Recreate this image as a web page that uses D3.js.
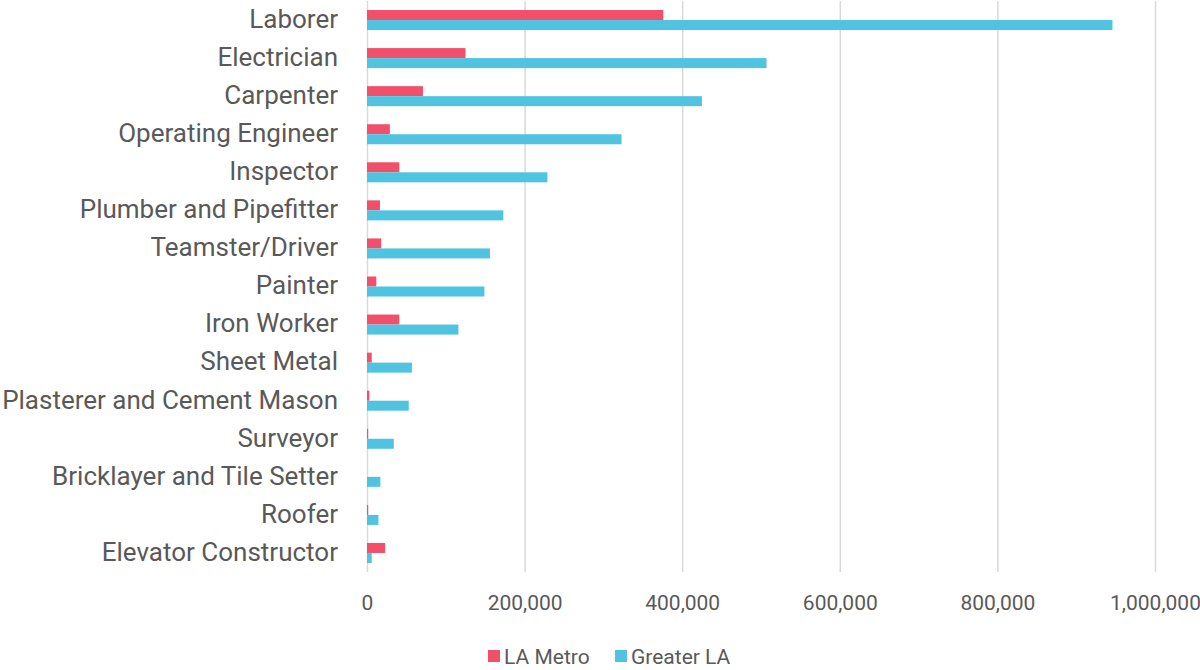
<!DOCTYPE html>
<html>
<head>
<meta charset="utf-8">
<script src="https://cdn.jsdelivr.net/npm/d3@7"></script>
<style>
  body { margin: 0; background: #fff; }
  svg text { font-family: Roboto, "Open Sans", sans-serif; fill: #595959; }
</style>
</head>
<body>
<svg id="chart" width="1200" height="670"></svg>
<script>
const trades = [
  "Laborer", "Electrician", "Carpenter", "Operating Engineer", "Inspector",
  "Plumber and Pipefitter", "Teamster/Driver", "Painter", "Iron Worker",
  "Sheet Metal", "Plasterer and Cement Mason", "Surveyor",
  "Bricklayer and Tile Setter", "Roofer", "Elevator Constructor"
];
const laMetro = [376000, 125000, 71000, 29000, 41000, 16500, 18000, 11800, 41000, 6000, 3000, 1500, 0, 1500, 23000];
const greaterLA = [946000, 507000, 425000, 323000, 229000, 173000, 156000, 149000, 116000, 57000, 53000, 34000, 17000, 14500, 6000];
const seriesNames = ["LA Metro", "Greater LA"];
const seriesColors = ["#f2506a", "#4fc3e0"];
const xTicks = [0, 200000, 400000, 600000, 800000, 1000000];

const svg = d3.select("#chart");
const margin = { top: 1, left: 367, right: 45 };
const plotH = 571;
const width = 1200 - margin.left - margin.right;

const x = d3.scaleLinear().domain([0, 1000000]).range([0, width]);
const y = d3.scaleBand().domain(trades).range([0, plotH])
  .paddingInner(0.474).paddingOuter(0.237);
const sub = d3.scaleBand().domain(seriesNames).range([0, y.bandwidth()]);

const g = svg.append("g")
  .attr("transform", "translate(" + margin.left + "," + margin.top + ")");

// vertical gridlines
g.append("g")
  .attr("class", "grid")
  .call(d3.axisBottom(x).tickValues(xTicks).tickSize(plotH).tickFormat(""))
  .call(s => s.select(".domain").remove())
  .call(s => s.selectAll("line").attr("stroke", "#d9d9d9").attr("stroke-width", 1.5));

// x tick labels
g.append("g")
  .attr("transform", "translate(0," + (plotH + 20) + ")")
  .call(d3.axisBottom(x).tickValues(xTicks).tickSize(0).tickFormat(d3.format(",")))
  .call(s => s.select(".domain").remove())
  .call(s => s.selectAll("text").style("font-size", "21px").attr("dy", "0.71em"));

// category labels
g.append("g")
  .attr("transform", "translate(-29,0)")
  .call(d3.axisLeft(y).tickSize(0).tickPadding(0))
  .call(s => s.select(".domain").remove())
  .call(s => s.selectAll("text").style("font-size", "26px").attr("dy", "0.3em"));

const rows = trades.map((t, i) => ({ trade: t, values: [laMetro[i], greaterLA[i]] }));

const grp = g.selectAll(".row")
  .data(rows)
  .enter()
  .append("g")
  .attr("class", "row")
  .attr("transform", d => "translate(0," + y(d.trade) + ")");

grp.selectAll("rect")
  .data(d => d.values.map((v, j) => ({ key: seriesNames[j], value: v, color: seriesColors[j] })))
  .enter()
  .append("rect")
  .attr("x", 0)
  .attr("y", d => sub(d.key))
  .attr("width", d => x(d.value))
  .attr("height", sub.bandwidth())
  .attr("fill", d => d.color);

// legend
const legend = svg.append("g").attr("transform", "translate(488,656)");
const legendX = [0, 127];
seriesNames.forEach((name, i) => {
  const item = legend.append("g").attr("transform", "translate(" + legendX[i] + ",0)");
  item.append("rect").attr("x", 0).attr("y", -6).attr("width", 12).attr("height", 12)
    .attr("fill", seriesColors[i]);
  item.append("text").attr("x", 16).attr("dy", "0.36em")
    .style("font-size", "21px").text(name);
});
</script>
</body>
</html>
